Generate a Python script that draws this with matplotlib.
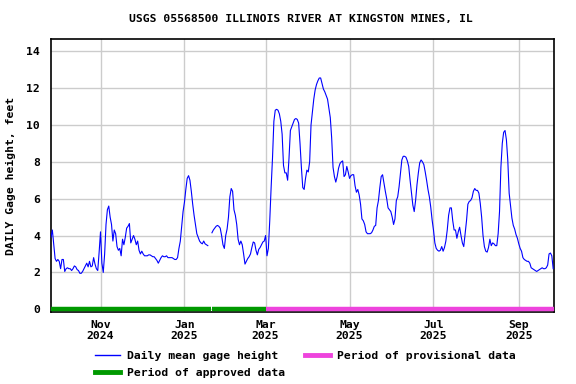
#!/usr/bin/python3
"""USGS daily mean gage height, Illinois River at Kingston Mines."""

import numpy as np
import pandas as pd
import matplotlib
matplotlib.use("Agg")
import matplotlib.pyplot as plt
from matplotlib.lines import Line2D

start = "2024-09-26"
approved_end = "2025-03-01"
approved_gap = ("2025-01-20", "2025-01-21")

# daily mean gage height, feet (NaN = missing days)
gage = [
    3.9, 4.3, 3.5, 2.75, 2.6, 2.7, 2.6, 2.2, 2.7, 2.7,
    2.05, 2.2, 2.25, 2.2, 2.2, 2.1, 2.2, 2.35, 2.3, 2.15,
    2.1, 1.95, 1.95, 2.05, 2.2, 2.35, 2.5, 2.3, 2.6, 2.3,
    2.35, 2.8, 2.45, 2.2, 2.1, 3.1, 4.2, 2.5, 2.0, 3.0,
    4.6, 5.4, 5.6, 5.0, 4.6, 3.7, 4.3, 4.1, 3.4, 3.2,
    3.3, 2.9, 3.8, 3.5, 3.9, 4.4, 4.5, 4.65, 3.6, 3.8,
    4.0, 3.8, 3.5, 3.7, 3.2, 3.0, 3.15, 3.0, 2.9, 2.9,
    2.9, 2.95, 2.95, 2.9, 2.85, 2.85, 2.75, 2.65, 2.5, 2.65,
    2.8, 2.9, 2.85, 2.85, 2.9, 2.8, 2.8, 2.8, 2.8, 2.75,
    2.7, 2.7, 2.8, 3.3, 3.7, 4.5, 5.3, 5.8, 6.5, 7.1,
    7.25, 7.0, 6.4, 5.7, 5.1, 4.6, 4.1, 3.9, 3.7, 3.6,
    3.55, 3.7, 3.55, 3.5, 3.45, np.nan, np.nan, 4.15, 4.3, 4.4,
    4.5, 4.55, 4.5, 4.4, 4.0, 3.5, 3.3, 4.0, 4.35, 5.0,
    6.1, 6.55, 6.4, 5.4, 5.1, 4.6, 3.8, 3.5, 3.7, 3.5,
    3.0, 2.45, 2.6, 2.75, 2.85, 3.0, 3.35, 3.65, 3.6, 3.2,
    2.95, 3.25, 3.35, 3.5, 3.65, 3.7, 4.0, 2.9, 3.3, 4.8,
    6.6, 8.2, 10.2, 10.8, 10.85, 10.8, 10.6, 10.2, 9.5, 7.8,
    7.4, 7.4, 7.0, 8.2, 9.7, 9.9, 10.1, 10.3, 10.35, 10.3,
    10.1, 9.0, 7.7, 6.6, 6.5, 7.1, 7.55, 7.45, 8.0, 10.0,
    10.7, 11.4, 11.9, 12.2, 12.4, 12.55, 12.55, 12.25, 11.95, 11.8,
    11.6, 11.4, 10.9, 10.4, 9.3, 7.7, 7.2, 6.9, 7.2, 7.65,
    7.9, 8.0, 8.05, 7.2, 7.3, 7.75, 7.45, 7.1, 7.25, 7.3,
    7.3, 6.7, 6.35, 6.5, 6.2, 5.7, 4.9, 4.8, 4.6, 4.2,
    4.1, 4.1, 4.1, 4.15, 4.3, 4.5, 4.55, 5.5, 5.9, 6.6,
    7.2, 7.3, 6.85, 6.4, 6.0, 5.5, 5.4, 5.3, 5.0, 4.6,
    4.9, 5.9, 6.1, 6.65, 7.4, 8.1, 8.3, 8.3, 8.25, 8.05,
    7.75, 7.0, 6.35, 5.65, 5.3, 5.9, 6.75, 7.4, 7.95, 8.1,
    8.0, 7.85, 7.45, 7.0, 6.5, 6.1, 5.55, 4.85, 4.3, 3.6,
    3.3, 3.2, 3.15, 3.2, 3.4, 3.15, 3.35, 3.7, 4.3, 5.1,
    5.5, 5.5, 4.8, 4.3, 4.3, 3.85, 4.2, 4.45, 4.0, 3.6,
    3.4, 4.1, 4.8, 5.7, 5.85, 5.9, 6.05, 6.4, 6.55, 6.45,
    6.45, 6.3, 5.75, 5.0, 4.0, 3.4, 3.15, 3.1, 3.35, 3.8,
    3.45, 3.6, 3.55, 3.45, 3.45, 4.1, 5.3, 7.7, 9.0, 9.6,
    9.7, 9.2, 8.1, 6.3, 5.6, 4.95, 4.55, 4.35, 4.05, 3.85,
    3.55, 3.3, 3.15, 2.8, 2.7, 2.65, 2.6, 2.6, 2.5, 2.25,
    2.2, 2.15, 2.1, 2.05, 2.1, 2.15, 2.2, 2.25, 2.2, 2.2,
    2.25, 2.4, 3.0, 3.05, 2.9, 2.2,
]

yticks = [0, 2, 4, 6, 8, 10, 12, 14]

FONT = dict(family="DejaVu Sans Mono", weight="bold", size=8.2)

dates = pd.date_range(start, periods=len(gage), freq="D")
x0 = pd.Timestamp(start)
x1 = x0 + pd.Timedelta(days=365.8)

fig = plt.figure(figsize=(5.76, 3.84), dpi=100)
ax = fig.add_axes([0.0885, 0.1875, 0.8738, 0.7102])

ax.plot(dates, gage, color="#0000ff", lw=0.8, zorder=3)

# data status bars along zero
bar_y = 0.0
ax.plot([x0, pd.Timestamp(approved_gap[0])], [bar_y, bar_y],
        color="#009900", lw=3.2, solid_capstyle="butt", zorder=4)
ax.plot([pd.Timestamp(approved_gap[0]) + pd.Timedelta(hours=20),
         pd.Timestamp(approved_end)], [bar_y, bar_y],
        color="#009900", lw=3.2, solid_capstyle="butt", zorder=4)
ax.plot([pd.Timestamp(approved_end), x1], [bar_y, bar_y],
        color="#ee44dd", lw=3.2, solid_capstyle="butt", zorder=4)

ax.set_xlim(x0, x1)
ax.set_ylim(-0.15, 14.65)
ax.set_yticks(yticks)
ax.set_yticklabels([str(v) for v in yticks], **FONT)

months = pd.date_range("2024-11-01", "2025-09-01", freq="2MS")
ax.set_xticks(months)
ax.set_xticklabels([d.strftime("%b\n%Y") for d in months], **FONT,
                   linespacing=1.1)
ax.tick_params(length=0, pad=6)
ax.tick_params(axis="y", pad=8)

ax.grid(True, color="#cccccc", lw=1)
ax.set_axisbelow(True)
for s in ax.spines.values():
    s.set_linewidth(1.2)

ax.set_ylabel("DAILY Gage height, feet", **FONT, labelpad=7)
fig.text(0.523, 0.95, "USGS 05568500 ILLINOIS RIVER AT KINGSTON MINES, IL",
         ha="center", va="center", **FONT)

handles = [
    Line2D([], [], color="#0000ff", lw=1),
    Line2D([], [], color="#009900", lw=3.5),
    Line2D([], [], color="#ee44dd", lw=3.5),
]
labels = ["Daily mean gage height", "Period of approved data",
          "Period of provisional data"]
fig.legend(handles, labels, ncol=2, loc="upper left",
           bbox_to_anchor=(0.165, 0.085), frameon=False,
           prop=dict(family="DejaVu Sans Mono", weight="bold", size=8.2),
           handlelength=2.2, handletextpad=0.6, columnspacing=1.75,
           labelspacing=0.55, borderaxespad=0, borderpad=0)

fig.savefig("out.png", dpi=100)
